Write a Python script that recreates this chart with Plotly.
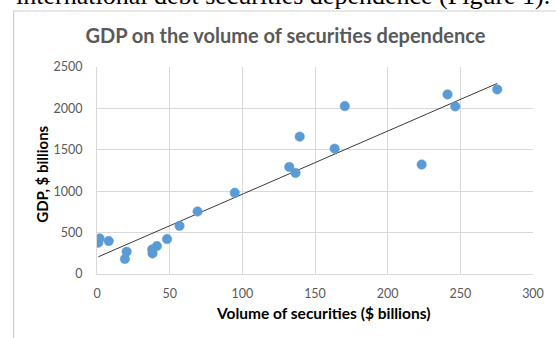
import numpy as np
import plotly.graph_objects as go

# Data
securities_volume = [1.8, 0.9, 8.1, 20.4, 19.2, 38.0, 38.2, 41.2, 48.2, 56.8, 69.2,
                     94.8, 132.3, 136.6, 139.5, 163.5, 170.5, 223.4, 241.2, 246.5, 275.4]
gdp_values = [430, 378, 398, 269, 181, 297, 249, 337, 422, 582, 755,
              980, 1293, 1221, 1659, 1514, 2028, 1322, 2169, 2024, 2229]

x_ticks = [0, 50, 100, 150, 200, 250, 300]
y_ticks = [0, 500, 1000, 1500, 2000, 2500]

chart_title = "GDP on the volume of securities dependence"
x_title = "Volume of securities ($ billions)"
y_title = "GDP, $ billions"
doc_text = "international debt securities dependence (Figure 1)."

# Linear trendline (as Excel does)
slope, intercept = np.polyfit(securities_volume, gdp_values, 1)
trend_x = [min(securities_volume), max(securities_volume)]
trend_y = [slope * v + intercept for v in trend_x]

W, H = 556, 338
L, R, T, B = 97, 17, 67, 64
pw, ph = W - L - R, H - T - B


def px(xp):
    return (xp - L) / pw


def py(yp):
    return (H - B - yp) / ph


fig = go.Figure()
fig.add_trace(go.Scatter(x=trend_x, y=trend_y, mode="lines",
                         line=dict(color="#3a3a3a", width=1), hoverinfo="skip",
                         showlegend=False))
fig.add_trace(go.Scatter(x=securities_volume, y=gdp_values, mode="markers",
                         marker=dict(color="#5B9BD5", size=9.5,
                                     line=dict(color="#5B9BD5", width=0.5)),
                         showlegend=False))

font_family = "Lato"
fig.update_layout(
    width=W, height=H,
    margin=dict(l=L, r=R, t=T, b=B),
    paper_bgcolor="white", plot_bgcolor="white",
    font=dict(family=font_family, size=12, color="#595959"),
    title=dict(text=chart_title, x=px(288), xref="paper", xanchor="center",
               y=1 - 36 / H, yref="container", yanchor="middle",
               font=dict(family=font_family, size=20, color="#595959", weight="bold")),
    xaxis=dict(range=[0, 300], tickvals=x_ticks, showgrid=True, gridcolor="#d9d9d9",
               gridwidth=1, zeroline=False, showline=True, linecolor="#d9d9d9",
               ticks="", ticklabelstandoff=8,
               tickfont=dict(family=font_family, size=12.5, color="#595959")),
    yaxis=dict(range=[0, 2500], tickvals=y_ticks, showgrid=True, gridcolor="#d9d9d9",
               gridwidth=1, zeroline=False, showline=True, linecolor="#d9d9d9",
               ticks="", ticklabelstandoff=11,
               tickfont=dict(family=font_family, size=12.5, color="#595959")),
    shapes=[dict(type="rect", xref="paper", yref="paper",
                 x0=px(12.5), x1=px(W + 20), y0=py(H + 20), y1=py(11),
                 line=dict(color="#d0d0d0", width=1.2), fillcolor="rgba(0,0,0,0)",
                 layer="below")],
    annotations=[
        dict(text=x_title, xref="paper", yref="paper", x=px(325.7), y=py(313),
             xanchor="center", yanchor="middle", showarrow=False,
             font=dict(family=font_family, size=15.5, color="#000000", weight="bold")),
        dict(text=y_title, xref="paper", yref="paper", x=px(41), y=py(174),
             xanchor="center", yanchor="middle", showarrow=False, textangle=-90,
             font=dict(family=font_family, size=15, color="#000000", weight="bold")),
        dict(text=doc_text, xref="paper", yref="paper", x=px(13), y=py(-5),
             xanchor="left", yanchor="middle", showarrow=False,
             font=dict(family="Liberation Serif", size=26, color="#000000")),
    ],
)

fig.write_html("out.html")
